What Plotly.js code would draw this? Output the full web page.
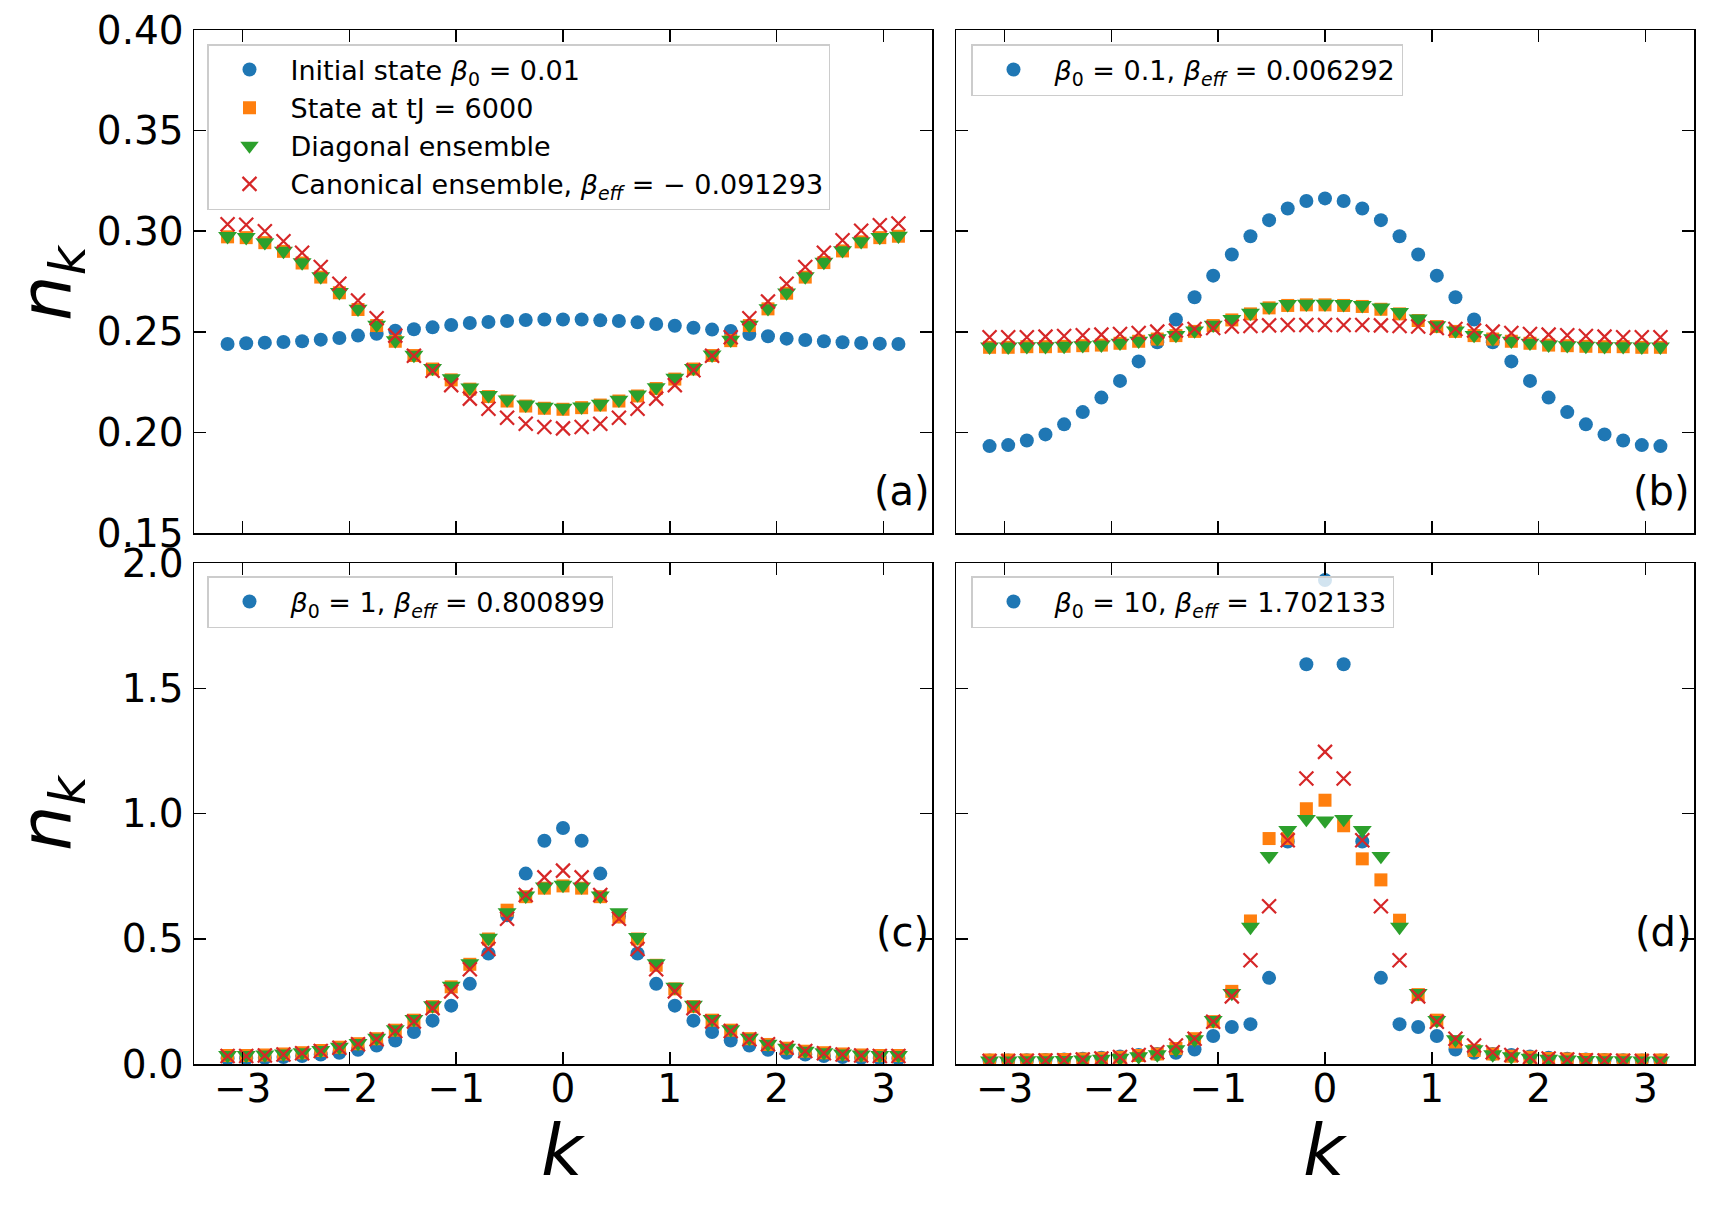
<!DOCTYPE html>
<html>
<head>
<meta charset="utf-8">
<script src="https://cdn.plot.ly/plotly-3.0.1.min.js"></script>
<style>
  html, body { margin: 0; padding: 0; background: #fff; }
  #chart { width: 1710px; height: 1206px; }
</style>
</head>
<body>
<div id="chart"></div>
<script>
// momentum grid k (from -pi to pi)
const k = [-3.1416, -2.9671, -2.7925, -2.6180, -2.4435, -2.2689, -2.0944, -1.9199, -1.7453, -1.5708,
           -1.3963, -1.2217, -1.0472, -0.8727, -0.6981, -0.5236, -0.3491, -0.1745, 0.0,
           0.1745, 0.3491, 0.5236, 0.6981, 0.8727, 1.0472, 1.2217, 1.3963, 1.5708, 1.7453,
           1.9199, 2.0944, 2.2689, 2.4435, 2.6180, 2.7925, 2.9671, 3.1416];

// panel (a)
const a_init = [0.2439, 0.2443, 0.2446, 0.2449, 0.2453, 0.2461, 0.2469, 0.2481, 0.2490, 0.2505, 0.2513, 0.2522, 0.2534, 0.2544, 0.2549, 0.2554, 0.2559, 0.2561, 0.2561, 0.2561, 0.2557, 0.2554, 0.2547, 0.2539, 0.2530, 0.2520, 0.2511, 0.2504, 0.2489, 0.2478, 0.2466, 0.2459, 0.2453, 0.2448, 0.2444, 0.2441, 0.2439];
const a_t    = [0.2972, 0.2968, 0.2943, 0.2900, 0.2842, 0.2772, 0.2694, 0.2611, 0.2531, 0.2453, 0.2382, 0.2315, 0.2261, 0.2215, 0.2178, 0.2156, 0.2131, 0.2120, 0.2115, 0.2123, 0.2136, 0.2156, 0.2181, 0.2218, 0.2265, 0.2315, 0.2382, 0.2456, 0.2531, 0.2614, 0.2692, 0.2772, 0.2844, 0.2902, 0.2947, 0.2968, 0.2975];
const a_diag = [0.2975, 0.2970, 0.2945, 0.2902, 0.2845, 0.2775, 0.2697, 0.2614, 0.2535, 0.2457, 0.2385, 0.2320, 0.2268, 0.2222, 0.2185, 0.2163, 0.2138, 0.2127, 0.2122, 0.2128, 0.2142, 0.2162, 0.2188, 0.2224, 0.2271, 0.2320, 0.2386, 0.2460, 0.2534, 0.2617, 0.2695, 0.2775, 0.2847, 0.2905, 0.2950, 0.2971, 0.2977];
const a_can  = [0.3035, 0.3032, 0.3000, 0.2950, 0.2893, 0.2822, 0.2739, 0.2656, 0.2567, 0.2481, 0.2381, 0.2306, 0.2235, 0.2168, 0.2118, 0.2073, 0.2043, 0.2027, 0.2020, 0.2027, 0.2043, 0.2073, 0.2118, 0.2168, 0.2235, 0.2309, 0.2381, 0.2473, 0.2567, 0.2651, 0.2739, 0.2822, 0.2893, 0.2955, 0.3002, 0.3030, 0.3038];

// panel (b)
const b_init = [0.1932, 0.1937, 0.1960, 0.1990, 0.2040, 0.2101, 0.2173, 0.2256, 0.2353, 0.2448, 0.2561, 0.2672, 0.2779, 0.2884, 0.2975, 0.3055, 0.3113, 0.3150, 0.3163, 0.3150, 0.3113, 0.3055, 0.2975, 0.2884, 0.2779, 0.2672, 0.2561, 0.2448, 0.2353, 0.2256, 0.2173, 0.2101, 0.2040, 0.1990, 0.1960, 0.1937, 0.1932];
const b_t    = [0.2423, 0.2423, 0.2426, 0.2426, 0.2428, 0.2431, 0.2434, 0.2443, 0.2453, 0.2464, 0.2481, 0.2502, 0.2531, 0.2559, 0.2589, 0.2619, 0.2631, 0.2634, 0.2634, 0.2631, 0.2626, 0.2612, 0.2589, 0.2556, 0.2526, 0.2502, 0.2481, 0.2464, 0.2453, 0.2443, 0.2434, 0.2431, 0.2428, 0.2426, 0.2426, 0.2423, 0.2423];
const b_diag = [0.2426, 0.2426, 0.2428, 0.2428, 0.2430, 0.2433, 0.2436, 0.2445, 0.2455, 0.2467, 0.2484, 0.2506, 0.2535, 0.2563, 0.2594, 0.2624, 0.2637, 0.2639, 0.2639, 0.2637, 0.2632, 0.2620, 0.2598, 0.2565, 0.2532, 0.2506, 0.2484, 0.2467, 0.2455, 0.2445, 0.2436, 0.2433, 0.2430, 0.2428, 0.2428, 0.2426, 0.2426];
const b_can  = [0.2473, 0.2473, 0.2473, 0.2476, 0.2479, 0.2483, 0.2486, 0.2489, 0.2494, 0.2501, 0.2506, 0.2514, 0.2519, 0.2526, 0.2529, 0.2532, 0.2534, 0.2534, 0.2534, 0.2534, 0.2534, 0.2532, 0.2529, 0.2526, 0.2519, 0.2514, 0.2506, 0.2501, 0.2494, 0.2489, 0.2486, 0.2483, 0.2479, 0.2476, 0.2473, 0.2473, 0.2473];

// panel (c)
const c_init = [0.022, 0.023, 0.025, 0.028, 0.032, 0.038, 0.045, 0.057, 0.074, 0.094, 0.128, 0.173, 0.233, 0.320, 0.441, 0.594, 0.760, 0.891, 0.942, 0.891, 0.760, 0.590, 0.441, 0.320, 0.233, 0.173, 0.128, 0.094, 0.074, 0.057, 0.045, 0.038, 0.032, 0.028, 0.025, 0.023, 0.022];
const c_t    = [0.034, 0.034, 0.036, 0.040, 0.045, 0.054, 0.067, 0.081, 0.101, 0.135, 0.175, 0.229, 0.308, 0.398, 0.499, 0.614, 0.668, 0.702, 0.711, 0.702, 0.668, 0.587, 0.499, 0.394, 0.300, 0.229, 0.175, 0.135, 0.101, 0.078, 0.063, 0.051, 0.045, 0.040, 0.036, 0.034, 0.034];
const c_diag = [0.035, 0.035, 0.037, 0.041, 0.046, 0.055, 0.068, 0.083, 0.104, 0.138, 0.179, 0.234, 0.312, 0.402, 0.503, 0.605, 0.672, 0.708, 0.715, 0.708, 0.672, 0.605, 0.506, 0.402, 0.308, 0.236, 0.179, 0.138, 0.104, 0.080, 0.064, 0.052, 0.046, 0.041, 0.037, 0.035, 0.035];
const c_can  = [0.032, 0.032, 0.034, 0.038, 0.043, 0.052, 0.065, 0.079, 0.099, 0.132, 0.170, 0.223, 0.290, 0.378, 0.459, 0.580, 0.675, 0.745, 0.772, 0.745, 0.675, 0.580, 0.459, 0.378, 0.290, 0.223, 0.170, 0.132, 0.099, 0.079, 0.065, 0.052, 0.043, 0.038, 0.034, 0.032, 0.032];

// panel (d)
const d_init = [0.014, 0.014, 0.015, 0.016, 0.018, 0.021, 0.025, 0.030, 0.036, 0.040, 0.045, 0.058, 0.112, 0.148, 0.159, 0.344, 0.888, 1.596, 1.932, 1.596, 0.888, 0.344, 0.159, 0.148, 0.112, 0.058, 0.045, 0.040, 0.036, 0.030, 0.025, 0.021, 0.018, 0.016, 0.015, 0.014, 0.014];
const d_t    = [0.016, 0.016, 0.016, 0.017, 0.018, 0.020, 0.023, 0.027, 0.034, 0.040, 0.062, 0.101, 0.169, 0.290, 0.571, 0.900, 0.900, 1.019, 1.053, 0.951, 0.819, 0.735, 0.574, 0.277, 0.175, 0.088, 0.054, 0.040, 0.031, 0.027, 0.022, 0.020, 0.018, 0.017, 0.016, 0.016, 0.016];
const d_diag = [0.013, 0.013, 0.014, 0.014, 0.015, 0.017, 0.020, 0.024, 0.030, 0.038, 0.058, 0.098, 0.175, 0.283, 0.547, 0.830, 0.934, 0.978, 0.972, 0.978, 0.934, 0.830, 0.547, 0.283, 0.175, 0.098, 0.058, 0.038, 0.030, 0.024, 0.020, 0.017, 0.015, 0.014, 0.014, 0.013, 0.013];
const d_can  = [0.012, 0.012, 0.013, 0.014, 0.015, 0.018, 0.022, 0.028, 0.036, 0.047, 0.074, 0.101, 0.169, 0.270, 0.414, 0.630, 0.893, 1.140, 1.246, 1.140, 0.893, 0.630, 0.414, 0.270, 0.169, 0.101, 0.074, 0.047, 0.036, 0.028, 0.022, 0.018, 0.015, 0.014, 0.013, 0.012, 0.012];

// legend labels
const namesA = ['Initial state <i>β</i><sub>0</sub> = 0.01', 'State at tJ = 6000', 'Diagonal ensemble',
                'Canonical ensemble, <i>β<sub>eff</sub></i> = − 0.091293'];
const nameB = '<i>β</i><sub>0</sub> = 0.1, <i>β<sub>eff</sub></i> = 0.006292';
const nameC = '<i>β</i><sub>0</sub> = 1, <i>β<sub>eff</sub></i> = 0.800899';
const nameD = '<i>β</i><sub>0</sub> = 10, <i>β<sub>eff</sub></i> = 1.702133';
const panelLabels = ['(a)', '(b)', '(c)', '(d)'];
const xTicks = [-3, -2, -1, 0, 1, 2, 3];

const C_BLUE = '#1f77b4', C_ORANGE = '#ff7f0e', C_GREEN = '#2ca02c', C_RED = '#d62728';
const mk = {
  init: {symbol: 'circle', size: 14, color: C_BLUE},
  t:    {symbol: 'square', size: 13, color: C_ORANGE},
  diag: {symbol: 'triangle-down', size: 16.5, color: C_GREEN},
  can:  {symbol: 'x-thin', size: 14, color: C_RED, line: {color: C_RED, width: 2.2}}
};

const panels = [
  {ax: '', leg: 'legend',  ys: [a_init, a_t, a_diag, a_can], names: namesA},
  {ax: '2', leg: 'legend2', ys: [b_init, b_t, b_diag, b_can], names: [nameB, null, null, null]},
  {ax: '3', leg: 'legend3', ys: [c_init, c_t, c_diag, c_can], names: [nameC, null, null, null]},
  {ax: '4', leg: 'legend4', ys: [d_init, d_t, d_diag, d_can], names: [nameD, null, null, null]}
];
const keys = ['init', 't', 'diag', 'can'];

const data = [];
panels.forEach(p => {
  p.ys.forEach((y, i) => {
    data.push({
      type: 'scatter', mode: 'markers', x: k, y: y,
      xaxis: 'x' + p.ax, yaxis: 'y' + p.ax,
      marker: mk[keys[i]],
      name: p.names[i] || '',
      showlegend: p.names[i] !== null,
      legend: p.leg,
      hoverinfo: 'x+y'
    });
  });
});

const W = 1710, H = 1206;
const px = v => v / W, py = v => 1 - v / H;
const colL = [px(194), px(932)], colR = [px(956), px(1694)];
const rowT = [py(533), py(30)], rowB = [py(1064), py(563)];

function xaxis(domain, anchor, labels) {
  return {
    domain: domain, anchor: anchor, range: [-3.456, 3.456],
    tickmode: 'array', tickvals: xTicks, showticklabels: labels,
    ticks: 'inside', ticklen: 12, tickwidth: 1.5, tickcolor: '#000',
    showline: true, linecolor: '#000', linewidth: 1.5, mirror: 'ticks',
    showgrid: false, zeroline: false,
    tickfont: {size: 39, color: '#000'}, ticklabelstandoff: -10
  };
}
function yaxis(domain, anchor, range, tickvals, fmt, labels) {
  return {
    domain: domain, anchor: anchor, range: range,
    tickmode: 'array', tickvals: tickvals, tickformat: fmt, showticklabels: labels,
    ticks: 'inside', ticklen: 12, tickwidth: 1.5, tickcolor: '#000',
    showline: true, linecolor: '#000', linewidth: 1.5, mirror: 'ticks',
    showgrid: false, zeroline: false,
    tickfont: {size: 39, color: '#000'}, ticklabelstandoff: 1
  };
}
const yTop = [0.15, 0.20, 0.25, 0.30, 0.35, 0.40];
const yBot = [0, 0.5, 1.0, 1.5, 2.0];

function legendAt(x, y) {
  return {
    x: px(x), y: py(y), xanchor: 'left', yanchor: 'top', xref: 'paper', yref: 'paper',
    bgcolor: 'rgba(255,255,255,0.8)', bordercolor: '#cccccc', borderwidth: 1.5,
    font: {size: 27, color: '#000', family: 'DejaVu Sans'},
    itemwidth: 72, tracegroupgap: 0
  };
}

const ann = [];
const lblFont = {size: 72, color: '#000', family: 'DejaVu Sans'};
ann.push({text: '<i>n<sub>k</sub></i>', x: px(50), y: py(283), xref: 'paper', yref: 'paper',
          showarrow: false, textangle: -90, font: lblFont, xanchor: 'center', yanchor: 'middle'});
ann.push({text: '<i>n<sub>k</sub></i>', x: px(50), y: py(813), xref: 'paper', yref: 'paper',
          showarrow: false, textangle: -90, font: lblFont, xanchor: 'center', yanchor: 'middle'});
ann.push({text: '<i>k</i>', x: px(563), y: py(1150), xref: 'paper', yref: 'paper',
          showarrow: false, font: lblFont, xanchor: 'center', yanchor: 'middle'});
ann.push({text: '<i>k</i>', x: px(1325), y: py(1150), xref: 'paper', yref: 'paper',
          showarrow: false, font: lblFont, xanchor: 'center', yanchor: 'middle'});
const plPos = [[932, 491], [1692, 491], [931, 932], [1694, 932]];
panelLabels.forEach((t, i) => {
  ann.push({text: t, x: px(plPos[i][0]), y: py(plPos[i][1]), xref: 'paper', yref: 'paper',
            showarrow: false, font: {size: 40, color: '#000', family: 'DejaVu Sans'},
            xanchor: 'right', yanchor: 'middle'});
});

const layout = {
  width: W, height: H,
  margin: {l: 0, r: 0, t: 0, b: 0},
  paper_bgcolor: '#fff', plot_bgcolor: '#fff',
  font: {family: 'DejaVu Sans', color: '#000'},
  xaxis:  xaxis(colL, 'y',  false),
  xaxis2: xaxis(colR, 'y2', false),
  xaxis3: xaxis(colL, 'y3', true),
  xaxis4: xaxis(colR, 'y4', true),
  yaxis:  yaxis(rowT, 'x',  [0.15, 0.40], yTop, '.2f', true),
  yaxis2: yaxis(rowT, 'x2', [0.15, 0.40], yTop, '.2f', false),
  yaxis3: yaxis(rowB, 'x3', [0, 2.0], yBot, '.1f', true),
  yaxis4: yaxis(rowB, 'x4', [0, 2.0], yBot, '.1f', false),
  legend:  legendAt(207, 44),
  legend2: legendAt(971, 44),
  legend3: legendAt(207, 576),
  legend4: legendAt(971, 576),
  annotations: ann,
  showlegend: true
};

Plotly.newPlot('chart', data, layout, {staticPlot: true, displayModeBar: false});
</script>
</body>
</html>
